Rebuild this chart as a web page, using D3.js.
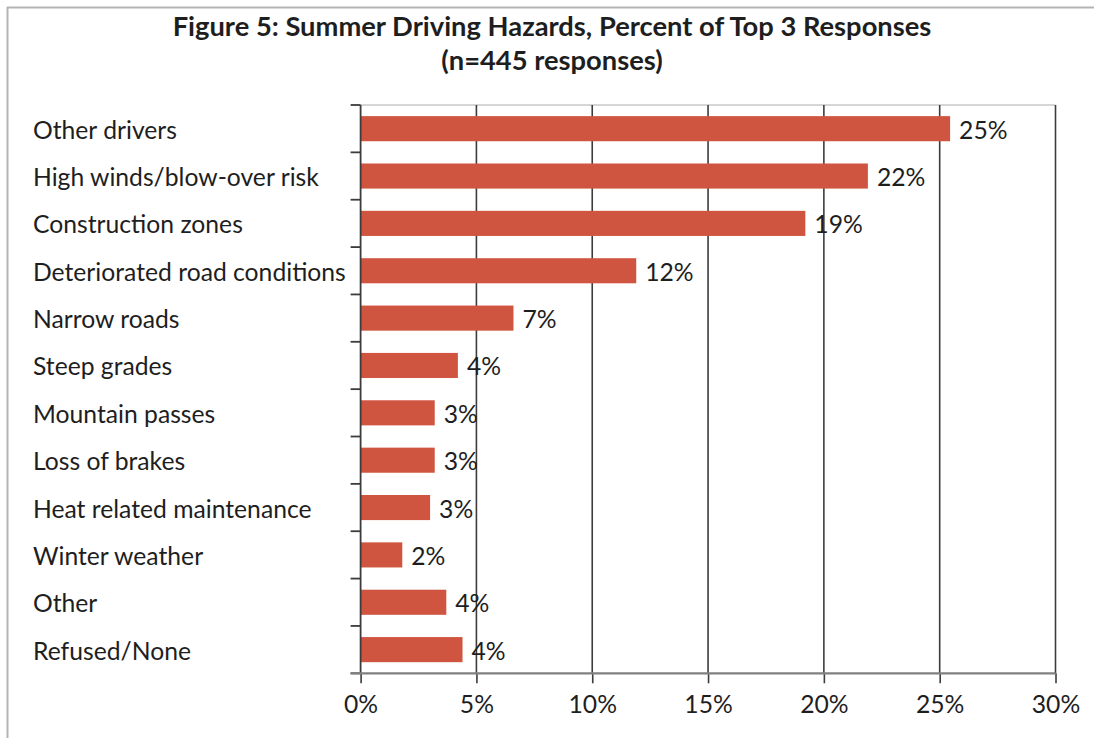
<!DOCTYPE html>
<html>
<head>
<meta charset="utf-8">
<script src="https://cdn.jsdelivr.net/npm/d3@7"></script>
<style>
  html, body { margin: 0; padding: 0; background: #ffffff; }
  svg { display: block; }
  text { font-family: "Lato", "Liberation Sans", sans-serif; fill: #1e1e1e; }
</style>
</head>
<body>
<svg id="chart" width="1094" height="738"></svg>
<script>
// Survey categories, top to bottom
const categories = [
  "Other drivers",
  "High winds/blow-over risk",
  "Construction zones",
  "Deteriorated road conditions",
  "Narrow roads",
  "Steep grades",
  "Mountain passes",
  "Loss of brakes",
  "Heat related maintenance",
  "Winter weather",
  "Other",
  "Refused/None"
];
// Share of top-3 responses, percent (labels show these rounded to whole percent)
const shares = [25.45, 21.9, 19.2, 11.9, 6.6, 4.2, 3.2, 3.2, 3.0, 1.8, 3.7, 4.4];
// Value axis ticks, percent
const xTicks = [0, 5, 10, 15, 20, 25, 30];
const titleLines = [
  "Figure 5: Summer Driving Hazards, Percent of Top 3 Responses",
  "(n=445 responses)"
];

const data = categories.map((c, i) => ({ category: c, value: shares[i] }));

const svg = d3.select("#chart");
const plot = { left: 360.6, right: 1055.5, top: 105, bottom: 673.3 };

// Outer chart frame (top and left edges visible)
svg.append("line").attr("x1", 7).attr("x2", 1094).attr("y1", 7.5).attr("y2", 7.5)
  .attr("stroke", "#b4b4b4").attr("stroke-width", 2);
svg.append("line").attr("x1", 7.5).attr("x2", 7.5).attr("y1", 7).attr("y2", 738)
  .attr("stroke", "#b4b4b4").attr("stroke-width", 2);

const x = d3.scaleLinear().domain([0, 30]).range([plot.left, plot.right]);
const y = d3.scaleBand().domain(categories).range([plot.top, plot.bottom])
  .paddingInner(0.47).paddingOuter(0.235);

// Scale a font size so that a reference string spans a given width
function fitSize(family, weight, str, target) {
  const t = svg.append("text").attr("font-family", family).attr("font-weight", weight)
    .attr("font-size", 20).text(str);
  const w = t.node().getComputedTextLength();
  t.remove();
  return 20 * target / w;
}
const fam = "Lato, 'Liberation Sans', sans-serif";
const labelSize = fitSize(fam, 400, "Deteriorated road conditions", 313);
const titleSize = fitSize(fam, 700, titleLines[0], 759);

// Title
svg.append("g").selectAll("text").data(titleLines).join("text")
  .attr("x", 552).attr("y", (d, i) => 36 + i * 34)
  .attr("text-anchor", "middle")
  .attr("font-weight", 700).attr("font-size", titleSize)
  .text(d => d);

// Plot area top edge
svg.append("line").attr("x1", plot.left).attr("x2", plot.right)
  .attr("y1", plot.top).attr("y2", plot.top)
  .attr("stroke", "#c8c8c8").attr("stroke-width", 1.5);

// Vertical gridlines
svg.append("g").selectAll("line").data(xTicks.filter(t => t > 0)).join("line")
  .attr("x1", d => x(d)).attr("x2", d => x(d))
  .attr("y1", plot.top).attr("y2", plot.bottom)
  .attr("stroke", "#3c3c3c").attr("stroke-width", 1.6);

// Bars
svg.append("g").selectAll("rect").data(data).join("rect")
  .attr("x", x(0))
  .attr("y", d => y(d.category))
  .attr("width", d => x(d.value) - x(0))
  .attr("height", y.bandwidth())
  .attr("fill", "#d05540");

// Value labels
const fmt = d3.format(".0f");
svg.append("g").selectAll("text").data(data).join("text")
  .attr("x", d => x(d.value) + 9)
  .attr("y", d => y(d.category) + y.bandwidth() / 2 + 10)
  .attr("font-size", labelSize)
  .text(d => fmt(d.value) + "%");

// Category axis: line plus ticks at band boundaries
const step = y.step();
const catAxis = svg.append("g");
catAxis.append("line").attr("x1", plot.left).attr("x2", plot.left)
  .attr("y1", plot.top).attr("y2", plot.bottom)
  .attr("stroke", "#3c3c3c").attr("stroke-width", 1.8);
catAxis.selectAll("line.tick").data(d3.range(categories.length + 1)).join("line")
  .attr("class", "tick")
  .attr("x1", plot.left - 10).attr("x2", plot.left)
  .attr("y1", i => plot.top + i * step).attr("y2", i => plot.top + i * step)
  .attr("stroke", "#3c3c3c").attr("stroke-width", 1.8);
catAxis.selectAll("text").data(categories).join("text")
  .attr("x", 33)
  .attr("y", d => y(d) + y.bandwidth() / 2 + 10)
  .attr("font-size", labelSize)
  .text(d => d);

// Value axis
const xAxis = d3.axisBottom(x).tickValues(xTicks).tickSize(10).tickPadding(10)
  .tickFormat(d => d + "%");
const xg = svg.append("g").attr("transform", `translate(0,${plot.bottom})`).call(xAxis);
xg.select(".domain").remove();
xg.selectAll(".tick line").attr("stroke", "#3c3c3c").attr("stroke-width", 1.6);
xg.selectAll(".tick text").attr("font-size", labelSize).attr("font-family", fam)
  .attr("fill", "#1e1e1e").attr("dy", null).attr("y", 40);
svg.append("line").attr("x1", plot.left - 10).attr("x2", plot.right)
  .attr("y1", plot.bottom).attr("y2", plot.bottom)
  .attr("stroke", "#808080").attr("stroke-width", 2.2);
</script>
</body>
</html>
